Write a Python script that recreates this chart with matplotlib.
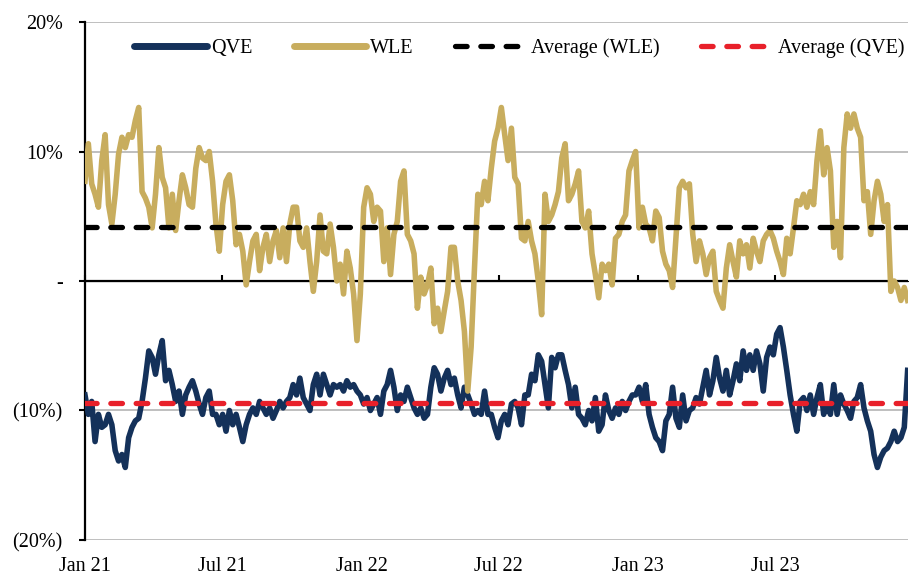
import numpy as np
import pandas as pd
import matplotlib
matplotlib.use("Agg")
from matplotlib import pyplot as plt
import matplotlib.dates as mdates

plt.rcParams['font.family'] = ['Liberation Serif', 'DejaVu Serif']

# % (six half-year blocks, ~4.4 days apart)
wle = [7.7, 10.6, 7.5, 6.7, 5.7, 9.3, 11.3, 5.9, 4.4, 6.7, 9.8, 11.1, 10.3, 11.3, 11.1, 12.4, 13.4, 6.9, 6.4, 5.7,
       4.1, 6.7, 10.3, 8.0, 7.2, 4.1, 6.7, 3.9, 6.2, 8.2, 7.2, 5.9, 5.7, 8.7, 10.3, 9.5, 9.3, 10.0, 7.7, 4.4, 2.3,
       5.9, 7.7, 8.2, 6.2, 2.8, 3.6, 2.3, -0.3, 1.5, 3.1, 3.6, 0.8, 2.6, 3.6, 1.5, 3.1, 3.9, 1.8, 4.1, 1.5,
       4.4, 5.7, 5.7, 3.1, 2.6, 4.1, 1.5, -0.8, 1.5, 5.1, 2.3, 2.1, 4.4, 2.6, 0.0, 1.3, -1.0, 2.3, 1.0, -1.0, -4.6,
       -1.0, 5.7, 7.2, 6.7, 4.6, 5.7, 5.4, 1.5, 4.1, 0.5, 3.6, 4.6, 7.7, 8.5, 3.6, 3.1, 2.1, -2.1, 0.3, -1.0,
       -0.3, 1.0, -3.3, -2.1, -3.9, -2.3, -0.8, 2.6, 2.6, 0.0, -1.5, -3.9, -8.5, -5.1, 1.0, 6.7, 5.9, 7.7, 6.2, 8.7, 10.8,
       11.8, 13.4, 11.3, 9.3, 11.8, 8.0, 7.5, 3.3, 3.1, 4.6, 3.1, 2.1, 0.0, -2.6, 6.7, 4.6, 5.1, 5.9, 6.9, 9.5,
       10.6, 6.2, 6.7, 7.5, 8.5, 4.6, 4.1, 5.4, 2.1, 0.5, -1.3, 1.3, 0.8, 1.3, -0.3, 3.3, 3.6, 4.6, 5.1, 8.5, 9.3,
       10.0, 4.1, 5.7, 4.4, 4.1, 3.1, 5.4, 4.9, 2.3, 1.3, 0.8, -0.5, 3.3, 7.2, 7.7, 7.2, 7.5, 3.6, 1.5, 3.1,
       2.1, 0.5, 1.8, 2.3, -0.8, -1.5, -2.1, 1.0, 2.8, 1.5, 0.3, 3.1, 2.1, 2.8, 1.0, 3.3, 2.3, 1.5, 3.1, 3.6, 3.9,
       3.3, 2.3, 1.5, 0.5, 3.3, 2.1, 4.1, 6.2, 5.9, 6.7, 5.7, 6.9, 5.9, 9.3, 11.6, 8.2, 10.3, 8.5, 2.6, 4.6,
       1.8, 10.3, 12.9, 11.8, 12.9, 11.8, 11.1, 6.2, 6.9, 3.6, 6.2, 7.7, 6.7, 4.6, 5.9, -0.8, 0.0, -0.5, -1.5, -0.5, -1.5]

qve = [-8.8, -10.3, -9.3, -12.4, -10.3, -11.3, -11.1, -10.3, -11.1, -13.1, -13.9, -13.4, -14.4, -12.1, -11.3, -10.8,
       -10.6, -9.3, -7.5, -5.4, -5.9, -7.2, -5.7, -4.6, -7.7, -6.9, -8.0, -9.3, -8.5, -10.3, -8.8, -8.2, -7.7, -8.5,
       -9.5, -10.3, -9.0, -8.5, -10.3, -10.3, -11.1,
       -10.3, -11.6, -10.0, -11.1, -10.3, -11.3, -12.4, -11.1, -10.3, -9.8, -10.3, -9.3, -9.8, -10.3, -9.8, -10.6,
       -10.0, -9.3, -9.8, -9.3, -9.0, -8.0, -8.8, -7.5, -9.0, -9.5, -10.0, -8.0, -7.2, -8.8, -7.2, -8.0, -8.8, -8.0,
       -8.2, -8.0, -8.5, -7.7, -8.2, -8.0, -8.5,
       -8.8, -9.5, -9.0, -10.0, -9.5, -9.0, -10.3, -8.5, -8.0, -6.9, -8.2, -10.0, -8.8, -9.3, -8.2, -9.0, -9.8, -10.3,
       -9.8, -10.6, -10.3, -8.2, -6.7, -7.2, -8.5, -7.5, -6.9, -8.0, -7.5, -8.8, -9.8, -8.2, -8.8, -9.5, -10.3, -10.0,
       -10.3, -8.5, -10.3, -10.3, -11.3,
       -12.1, -10.8, -10.3, -11.1, -9.5, -9.3, -9.8, -11.1, -8.8, -8.8, -7.2, -7.7, -5.7, -6.2, -8.0, -9.8, -5.9, -6.7,
       -5.7, -5.7, -6.9, -8.0, -9.8, -8.2, -10.3, -10.6, -11.1, -10.0, -10.8, -9.0, -11.6, -11.1, -8.8, -10.0, -10.6,
       -9.8, -10.3, -9.3, -10.0, -9.3, -8.8,
       -8.8, -8.2, -9.3, -8.0, -10.3, -11.3, -12.1, -12.4, -13.1, -10.8, -10.3, -8.2, -10.6, -11.3, -8.8, -10.8, -10.0,
       -9.8, -9.0, -9.5, -8.2, -6.9, -8.8, -7.7, -5.9, -7.5, -8.5, -6.9, -8.8, -7.7, -6.4, -7.7, -5.4, -6.9, -5.7, -6.9,
       -5.4, -6.4, -8.5, -5.9, -5.1,
       -5.7, -4.1, -3.6, -5.1, -6.9, -8.8, -10.3, -11.6, -9.3, -9.0, -10.0, -8.8, -10.3, -9.0, -8.0, -10.3, -9.5, -10.3,
       -8.0, -10.3, -8.8, -9.5, -10.0, -10.6, -9.3, -9.0, -8.0, -9.8, -10.8, -11.6, -13.4, -14.4, -13.6, -13.1, -12.9,
       -12.4, -11.6, -12.4, -12.1, -11.3, -6.9]

avg_wle = 4.2
avg_qve = -9.4

dates = pd.date_range('2021-01-01', '2023-12-23', periods=len(wle))
tick_dates = pd.to_datetime(['2021-01-01', '2021-07-01', '2022-01-01', '2022-07-01', '2023-01-01', '2023-07-01'])
yticks = [-20, -10, 0, 10, 20]
ylabels = ['(20%)', '(10%)', '-', '10%', '20%']

navy = '#14315A'
gold = '#C8AD5E'
red = '#E8202A'

fig = plt.figure(figsize=(9.09, 5.75), dpi=100)
ax = fig.add_axes([0.0935, 0.0609, 0.905, 0.9008])

ax.plot(dates, qve, color=navy, lw=4.0, solid_joinstyle='round', label='QVE', zorder=3)
ax.plot(dates, wle, color=gold, lw=4.0, solid_joinstyle='round', label='WLE', zorder=4)
ax.axhline(avg_wle, color='black', lw=3.8, ls=(0, (2.2, 2.6)), dash_capstyle='round',
           label='Average (WLE)', zorder=5)
ax.axhline(avg_qve, color=red, lw=3.8, ls=(0, (2.2, 2.6)), dash_capstyle='round',
           label='Average (QVE)', zorder=5)
ax.axhline(0, color='black', lw=1.6, zorder=2)

ax.set_ylim(-20, 20)
ax.set_xlim(dates[0], dates[-1])
ax.set_yticks(yticks)
ax.set_yticklabels(ylabels)
ax.yaxis.grid(True, color='#BFBFBF', lw=1.4)
ax.set_axisbelow(True)

ax.set_xticks(tick_dates)
ax.xaxis.set_major_formatter(mdates.DateFormatter('%b %y'))
ax.tick_params(axis='x', length=0, pad=12, labelsize=14.5)
ax.tick_params(axis='y', direction='out', length=4, width=1.5, pad=12, labelsize=14.5)

for s in ['top', 'right', 'bottom']:
    ax.spines[s].set_visible(False)
ax.spines['left'].set_linewidth(1.6)

# small ticks on the zero axis
zero_ax = ax.secondary_xaxis(0.5)
zero_ax.set_xticks(tick_dates)
zero_ax.tick_params(axis='x', direction='out', length=4, width=1.5, labelbottom=False, labeltop=False)

leg = ax.legend(loc='center', bbox_to_anchor=(0.528, 0.95), ncol=4, frameon=False,
                handlelength=3.6, handletextpad=0.2, columnspacing=2.05, fontsize=14.5)
for h in leg.get_lines()[:2]:
    h.set_linewidth(5)
    h.set_solid_capstyle('round')

fig.savefig('out.png', dpi=100)
